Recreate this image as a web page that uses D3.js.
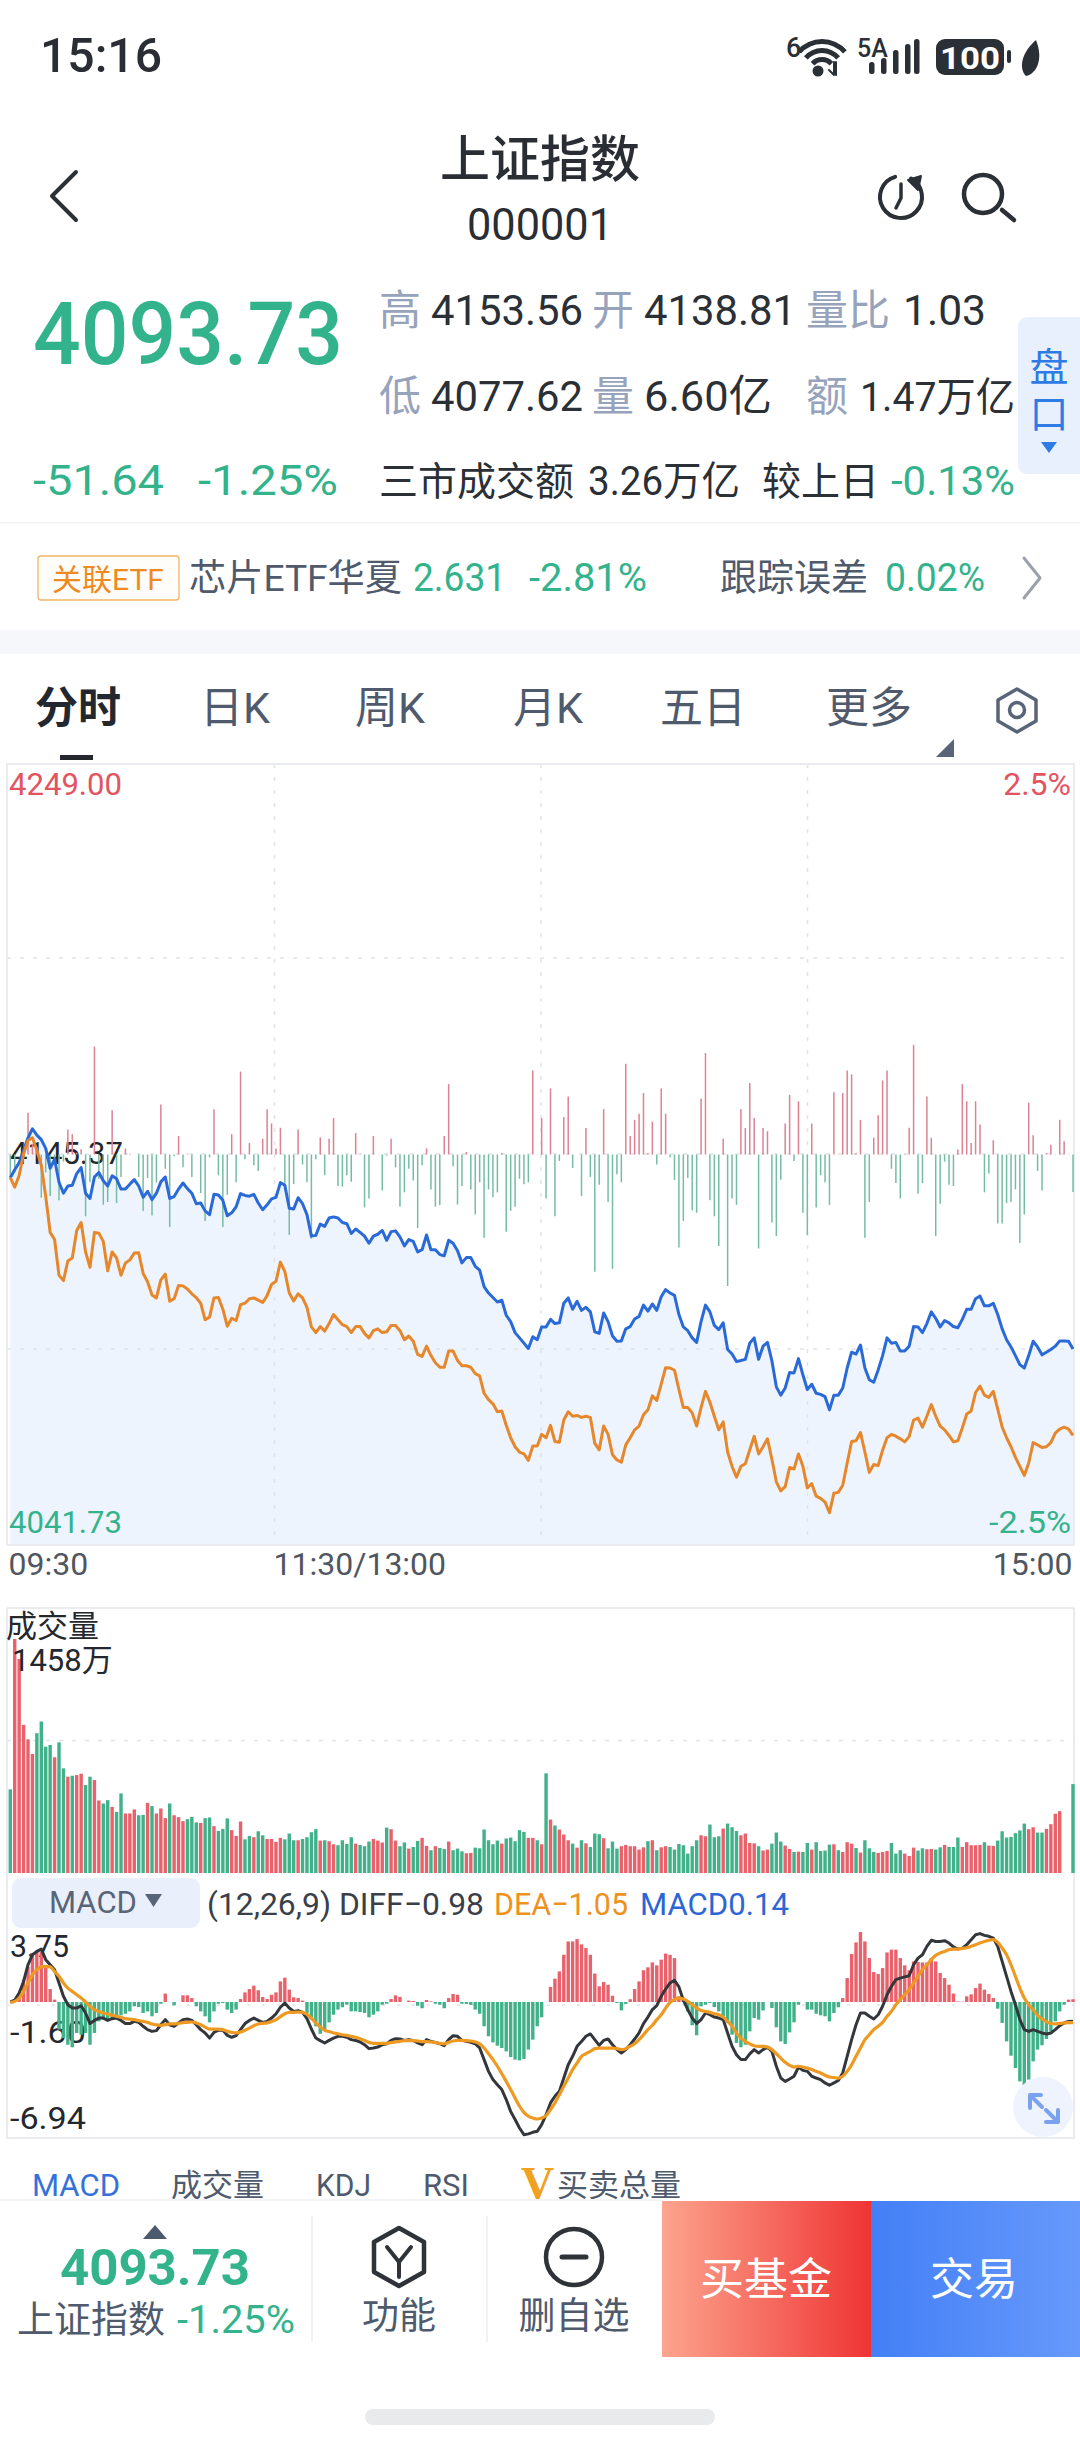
<!DOCTYPE html>
<html><head><meta charset="utf-8">
<script src="https://cdn.jsdelivr.net/npm/d3@7/dist/d3.min.js"></script>
<style>html,body{margin:0;padding:0;background:#fff}svg{display:block}text{font-family:Roboto,"Noto Sans CJK SC",sans-serif}</style>
</head><body><div id="c"></div>
<script>
const priceLine=[4139.2,4141.3,4143.2,4146.5,4149.8,4152.2,4150.5,4149.3,4147,4141.7,
4144.1,4138,4135.1,4137,4137.2,4140.3,4141.9,4135.1,4133.7,4139.4,
4140.6,4138.4,4137,4139.7,4138.9,4136.2,4136.2,4137.5,4138.7,4137,
4134,4135.6,4133.4,4135.1,4138.1,4139.4,4133.7,4134.2,4136.2,4137.8,
4136.3,4135.1,4132.3,4132.5,4130.4,4129.4,4134.8,4134.6,4133.2,4129.1,
4129.9,4131.5,4135,4134.5,4134.3,4134.8,4132.5,4130.7,4132,4133.6,
4134,4137.9,4137.2,4131.1,4130.9,4133.9,4132.3,4129.4,4123.7,4123.9,
4126.9,4126.3,4128.5,4128.8,4128.5,4127.3,4127,4124.4,4125.6,4124.7,
4123.7,4121.8,4123.7,4124.2,4125.2,4122.6,4124.9,4125.1,4123.5,4121.1,
4122.8,4122.3,4119.5,4120.1,4124,4120.1,4120.1,4118.8,4118.5,4122.6,
4121.8,4119.8,4116.6,4118,4118,4115.7,4114.7,4110.3,4108.6,4107.4,
4106.2,4106.7,4102.7,4101,4098.1,4096.7,4095.3,4093.9,4097,4096.2,
4099.6,4099.6,4101.6,4100.5,4100.7,4105.9,4107.3,4104.3,4106.4,4104,
4104.8,4103.6,4098.3,4097.9,4103.3,4101,4097.2,4095.8,4095.9,4099.1,
4099.7,4101.7,4102.4,4105.4,4103.8,4105.7,4104,4107.6,4109.5,4108.6,
4108,4102.9,4099.6,4098.6,4096.7,4095.5,4101,4105.4,4103.6,4100,
4098.9,4100.7,4093.6,4092.4,4090.4,4090.7,4091,4095.3,4096.7,4091,
4094.5,4095.5,4090.6,4083.7,4081.5,4083.4,4087.5,4087.4,4091.2,4086.9,
4083,4084.4,4082,4081.7,4081.1,4077.6,4081.5,4081.5,4083.4,4088.7,
4092.9,4092.4,4094.8,4088.7,4085.6,4084.9,4088.2,4092,4096.7,4095.3,
4095.5,4093.2,4093.2,4094.5,4099.7,4099.6,4098.1,4100.5,4103.6,4101.9,
4099.6,4101.3,4100.7,4099.7,4099.4,4101.6,4104.3,4104.3,4107.1,4107.8,
4105.2,4105.2,4105.9,4102.9,4099.1,4096.2,4094.3,4092,4089.6,4088.7,
4092,4095.8,4094.3,4092.2,4092.9,4093.6,4094.5,4095.9,4095.9,4095.8,4093.73];
const leadLine=[4139.2,4136.7,4139.8,4145.5,4149.1,4149.8,4146.5,4142.5,4134.2,4124.7,
4122.8,4113.3,4111.9,4117.1,4117.9,4125.2,4127.3,4119.5,4115.4,4124.7,
4124.5,4122.3,4114.5,4119.5,4117.9,4113.3,4116.6,4117.4,4119.2,4119.3,
4113.8,4111.6,4108.1,4107.3,4112.1,4113.6,4106.4,4107.1,4110.6,4110.5,
4109.7,4108.4,4107.4,4105.9,4101.5,4102.2,4107.3,4107.4,4104.3,4099.8,
4101.9,4101.3,4105.5,4105.9,4107.1,4107.3,4106.7,4106.1,4107.9,4110.9,
4111.7,4116.8,4114.3,4108.6,4106.5,4108.4,4107.3,4104.8,4099.6,4098.1,
4099.7,4098.5,4100.5,4102.9,4101.5,4100.2,4099.7,4098.1,4099.7,4099.7,
4097.9,4096.7,4098.6,4099.1,4098.1,4098.3,4100,4100,4098.6,4096.2,
4097.2,4095.8,4092.3,4091.8,4094.5,4092,4090.1,4088.9,4088.9,4093.2,
4093.2,4090.7,4089.3,4089.3,4088.9,4087.2,4086.6,4082,4080.3,4079.2,
4077.1,4077.3,4073.5,4070.2,4067.8,4066.4,4065.9,4064.2,4068,4068,
4071.1,4070.2,4073.5,4069.2,4069,4074.9,4077.1,4075.9,4076.1,4075.6,
4075.9,4075.6,4068.7,4067,4073.3,4071.1,4065.7,4064.3,4063.7,4068.3,
4070.2,4072.3,4073.3,4076.3,4077.6,4081.3,4080.1,4084.4,4088.8,4088.7,
4088.1,4083,4078.2,4078.2,4076.8,4073.3,4078.2,4082.5,4079.6,4075.9,
4072.3,4074.4,4066.4,4062.6,4059.7,4062.6,4063.3,4067,4070.6,4065.9,
4067.8,4069.9,4064.5,4058.5,4056.1,4057.2,4062.3,4061.9,4065.9,4062.6,
4056.9,4058,4054.7,4054.1,4053.1,4050.3,4055.5,4055.7,4057.6,4063.5,
4069.2,4069.4,4071.6,4066.4,4061,4063.1,4062.8,4066.9,4070.2,4071.1,
4070.6,4069.9,4069.1,4070.5,4074.9,4075.4,4073,4075.9,4079,4075.9,
4073.3,4072.3,4070.8,4069.1,4069.4,4072.8,4076.5,4077.3,4082.2,4083.9,
4081.5,4080.9,4082.5,4077.8,4073,4070.2,4067.8,4065,4062.6,4060.2,
4063.5,4068.9,4068.3,4067.6,4067.8,4068.9,4071.4,4072.5,4073,4072.5,4070.8];
const flow=[-70,-50,0,-10,117,30,20,-121,-50,-116,
-30,-128,-20,70,57,5,15,-173,-78,302,
-68,-141,-133,124,-136,-63,17,2,0,-63,
-158,-66,-171,-78,140,-40,-203,-4,52,-36,
2,-63,0,-108,-186,-8,127,-58,-203,-113,
57,-78,232,-13,32,-30,-46,44,127,87,
17,75,-98,-225,-83,70,-28,-78,-236,-13,
48,-58,44,102,-88,-90,-58,-76,60,1,
-148,-123,52,1,-101,-3,44,-36,-146,-106,
-40,-73,-206,-30,17,-98,-146,-141,52,197,
-33,-140,-88,7,-98,-168,-78,-233,-98,-120,
-106,4,-216,-158,-146,-68,-83,-78,235,1,
102,-123,185,-173,-18,105,162,-38,0,-116,
74,-63,-328,-85,127,-133,-320,-55,-78,254,
52,97,114,172,4,92,-28,185,114,-8,
-71,-260,-186,-66,-156,-163,157,284,-128,-173,
-256,44,-368,-123,-141,127,74,200,102,-263,
74,65,-190,-228,-71,87,167,-18,149,-163,
-225,87,-148,-58,-78,-141,174,1,172,235,
224,4,97,-233,-133,47,110,207,235,-40,
-80,-123,1,75,307,-110,-80,162,47,-228,
-138,-20,-85,-88,14,197,149,32,149,84,
-106,-53,40,-193,-193,-136,-133,-98,-248,-168,
145,54,-46,-101,4,27,1,97,37,1,-105];
const volume=[521,1458,1333,923,833,742,871,944,787,798,
721,814,652,600,606,610,619,548,600,579,
452,433,454,412,381,496,371,371,396,360,
362,437,417,371,402,342,433,360,348,323,
335,350,315,312,342,346,292,262,275,340,
267,231,321,210,231,223,260,235,212,212,
194,219,210,246,204,204,212,223,254,273,
202,204,198,179,173,204,181,223,183,175,
167,196,212,202,190,283,273,202,167,190,
152,162,200,219,169,142,167,156,150,196,
142,152,135,123,125,158,154,271,204,179,
202,183,215,221,198,267,256,219,219,204,
179,621,333,296,271,240,204,183,158,204,
185,162,246,242,217,154,196,152,167,175,
167,167,146,160,198,204,142,160,167,162,
146,181,173,121,167,204,235,229,302,223,
229,277,308,285,262,235,246,187,185,167,
140,146,183,252,196,171,150,131,133,131,
187,146,192,137,140,177,179,142,131,192,
183,156,127,204,154,131,125,131,137,187,
121,142,121,106,158,140,154,148,150,146,
160,175,162,162,221,162,192,173,173,175,
192,171,169,202,260,221,225,248,265,308,
273,285,252,252,275,304,369,385,0,0,554];
const volumeDir=("GRRRRRGGGG"+"RGGRGRRGGR"+"RGGRGGRRRG"+"GRGRRRGRRR"+"GGGRGGRGGG"+"RRRGGRGGRR"+"RRGGGRGGGG"+"RGRRGGGGRG"+"GGRRRGRRGG"+"RGGRRGRGGR"+"GGGRRGGGGG"+"GRGGGGGRRG"+"RGRGRRRGRG"+"RGGGRGGGRR"+"RRRRGRGRRG"+"GGGGGGRRGG"+"GRGGGRRRRG"+"RRGGGRRGRG"+"GRGGGGRGRR"+"RGRGGGRRRG"+"GGRRRGGRRG"+"GRGGGRRRRR"+"GRRGGGGGGG"+"RRGGRRRRRRG").split("");
const macdHist=[0,.05,.29,1.14,1.79,2.5,2.62,2.55,1.77,.66,
.12,-1.41,-1.84,-2.18,-2.31,-1.58,-1.67,-1.58,-2.18,-1.58,
-.99,-.9,-.9,-.82,-.82,-.68,-.6,-.48,-.22,-.26,
-.56,-.48,-.73,-.56,-.09,.43,0,-.17,0,.34,
.34,.2,-.22,-.48,-.73,-1.04,-.48,-.09,-.05,-.39,
-.56,-.39,.15,.49,.66,.83,.6,.26,.15,.37,
.49,1.05,1.24,.63,.24,.2,.07,-.56,-.9,-1.24,
-1.62,-1.41,-1.04,-.65,-.39,-.27,-.14,-.48,-.48,-.51,
-.56,-.78,-.65,-.48,-.14,-.09,.15,.34,.26,0,
.07,.05,-.19,-.32,.1,.03,-.09,-.14,-.32,.2,
.41,.37,-.09,-.1,-.15,-.39,-.6,-1.24,-1.75,-2.06,
-2.23,-2.35,-2.52,-2.81,-2.94,-2.98,-2.91,-2.43,-1.92,-1.24,
-.78,0,.77,1.19,1.56,2.41,3.09,3.09,3.21,2.94,
2.75,2.41,1.45,.8,1.02,.88,.32,-.05,-.43,-.1,
.14,.66,1.05,1.62,1.77,2.02,1.87,2.16,2.47,2.41,
2.24,.29,.22,-.48,-1.19,-1.7,-.22,-.14,-.05,-.26,
-.48,-.73,-1.07,-1.67,-2.09,-2.31,-2.18,-1.5,-.82,-.9,
-.43,0,-.31,-1.29,-2.01,-2.14,-1.55,-1.04,-.14,0,
-.39,-.39,-.6,-.68,-.73,-.99,-.56,-.27,.2,1.22,
2.45,3.04,3.57,3.09,2.24,1.53,1.43,1.73,2.53,2.67,
2.67,2.24,1.87,1.62,2.07,2.04,2.02,2.02,2.24,2.07,
1.48,1.22,.88,.43,.03,.02,.29,.39,.71,.94,
.63,.41,.2,-.34,-1.07,-2.01,-2.74,-3.37,-4.05,-4.3,
-3.96,-3.03,-2.43,-2.21,-1.89,-1.5,-.99,-.48,-.14,.12,.14];
const diffLine=[0,.09,.46,1.05,1.9,2.41,2.58,2.7,2.16,1.9,
1.65,.97,.29,-.14,-.31,-.31,-.19,-.56,-1.1,-.94,
-.82,-.82,-.94,-.85,-.82,-.94,-1.1,-1.1,-.99,-1.04,
-1.24,-1.41,-1.5,-1.46,-1.16,-.9,-1.16,-1.24,-1.07,-.9,
-.87,-.94,-1.16,-1.41,-1.58,-1.84,-1.55,-1.44,-1.44,-1.7,
-1.8,-1.72,-1.41,-1.1,-.94,-.82,-.94,-1.04,-.99,-.82,
-.61,-.27,-.05,-.31,-.48,-.44,-.53,-.85,-1.38,-1.84,
-1.97,-2.09,-1.96,-1.84,-1.75,-1.75,-1.8,-1.92,-1.96,-2.04,
-2.18,-2.38,-2.35,-2.3,-2.18,-2.13,-1.96,-1.87,-1.89,-1.96,
-1.92,-1.96,-2.09,-2.18,-1.92,-2.01,-2.06,-2.13,-2.23,-1.92,
-1.72,-1.75,-1.96,-2.01,-2.06,-2.13,-2.35,-2.94,-3.54,-3.96,
-4.22,-4.47,-4.98,-5.58,-6,-6.43,-6.77,-6.73,-6.65,-6.6,
-6.26,-5.75,-5.15,-4.81,-4.56,-3.88,-3.2,-2.77,-2.26,-2.01,
-1.75,-1.63,-1.92,-2.21,-1.96,-1.89,-2.18,-2.43,-2.6,-2.43,
-2.18,-1.89,-1.58,-1.1,-.77,-.39,-.19,.29,.66,.97,
1.11,.77,.09,-.39,-.82,-1.1,-.9,-.56,-.65,-.77,
-.82,-.9,-1.58,-2.26,-2.69,-2.94,-2.94,-2.65,-2.43,-2.6,
-2.43,-2.31,-2.52,-3.28,-3.88,-4.05,-3.93,-3.79,-3.32,-3.49,
-3.54,-3.79,-3.88,-3.96,-4.13,-4.25,-4.13,-4,-3.62,-2.77,
-1.92,-1.16,-.56,-.56,-.73,-.87,-.65,-.22,.37,.8,
1.14,1.22,1.28,1.34,1.9,2.24,2.41,2.84,3.15,3.09,
3.09,3.13,3.01,2.81,2.7,2.75,2.92,3.18,3.43,3.49,
3.4,3.35,3.26,2.84,2.07,1.31,.54,-.14,-.9,-1.41,
-1.5,-1.41,-1.5,-1.58,-1.63,-1.58,-1.41,-1.21,-1.07,-.99,-.98];
const deaLine=[-.02,.03,.2,.54,.97,1.39,1.65,1.79,1.82,1.79,
1.56,1.31,.97,.71,.54,.37,.2,0,-.22,-.39,
-.48,-.56,-.61,-.68,-.73,-.78,-.85,-.88,-.9,-.95,
-.99,-1.04,-1.12,-1.17,-1.19,-1.16,-1.12,-1.12,-1.09,-1.05,
-1.04,-1.02,-1.07,-1.16,-1.28,-1.38,-1.38,-1.38,-1.41,-1.5,
-1.55,-1.58,-1.53,-1.44,-1.33,-1.21,-1.12,-1.09,-1.07,-1,
-.9,-.75,-.6,-.53,-.53,-.51,-.53,-.63,-.82,-1.07,
-1.28,-1.44,-1.51,-1.58,-1.62,-1.67,-1.7,-1.75,-1.8,-1.87,
-1.96,-2.06,-2.11,-2.11,-2.11,-2.11,-2.07,-2.04,-2.01,-1.97,
-1.97,-1.97,-1.99,-2.02,-2.02,-2.04,-2.07,-2.11,-2.14,-2.06,
-1.99,-1.96,-1.96,-1.97,-1.99,-2.04,-2.14,-2.35,-2.64,-2.94,
-3.28,-3.66,-4.05,-4.47,-4.9,-5.32,-5.63,-5.83,-5.92,-5.97,
-5.92,-5.8,-5.49,-5.15,-4.73,-4.3,-3.88,-3.45,-3.11,-2.77,
-2.64,-2.52,-2.38,-2.35,-2.35,-2.35,-2.35,-2.38,-2.43,-2.38,
-2.26,-2.13,-1.92,-1.67,-1.41,-1.19,-.9,-.65,-.31,-.02,
.12,.2,.15,.03,-.14,-.31,-.44,-.48,-.53,-.6,
-.65,-.77,-.99,-1.24,-1.58,-1.84,-2.01,-2.14,-2.23,-2.26,
-2.26,-2.3,-2.43,-2.64,-2.86,-3.08,-3.23,-3.32,-3.28,-3.32,
-3.37,-3.45,-3.54,-3.62,-3.74,-3.83,-3.86,-3.88,-3.79,-3.54,
-3.2,-2.77,-2.35,-1.92,-1.67,-1.41,-1.24,-1.04,-.73,-.48,
-.14,.12,.37,.63,.97,1.31,1.65,1.9,2.16,2.38,
2.5,2.58,2.67,2.7,2.7,2.74,2.77,2.84,2.92,3.01,
3.09,3.15,3.18,3.04,2.75,2.41,1.9,1.31,.71,.2,
-.14,-.39,-.68,-.87,-1,-1.1,-1.12,-1.09,-1.07,-1.05,-1.05];
const timeLabels=["09:30","11:30/13:00","15:00"];
const priceTicks=["4249.00","4145.37","4041.73"];
const pctTicks=["2.5%","-2.5%"];
const macdTicks=["3.75","-1.60","-6.94"];
const tabs=["分时","日K","周K","月K","五日","更多"];
const subTabs=["MACD","成交量","KDJ","RSI","买卖总量"];

const RED="#e8616b",GREEN="#41b18a",UI_GREEN="#33b38c",GRAY="#97a3bb",DARK="#2b2f36",SUB="#4f5a6d",LINE="#e9ebef",GRID="#dfe3ea";
const svg=d3.select("#c").append("svg").attr("width",1080).attr("height",2444).attr("viewBox","0 0 1080 2444");
const defs=svg.append("defs");
const g1=defs.append("linearGradient").attr("id","buy");g1.append("stop").attr("offset",0).attr("stop-color","#fca48d");g1.append("stop").attr("offset",1).attr("stop-color","#ef3434");
const g2=defs.append("linearGradient").attr("id","trade");g2.append("stop").attr("offset",0).attr("stop-color","#437ff6");g2.append("stop").attr("offset",1).attr("stop-color","#6699fb");
function T(x,y,s,size,fill,o={}){const t=svg.append("text").attr("x",x).attr("y",y).attr("font-size",size).attr("fill",fill).attr("text-anchor",o.a||"start").attr("font-weight",o.w||400).text(s);if(o.L)t.attr("textLength",o.L).attr("lengthAdjust","spacingAndGlyphs");return t}
function P(d,o={}){return svg.append("path").attr("d",d).attr("fill",o.f||"none").attr("stroke",o.s||"none").attr("stroke-width",o.sw||1).attr("stroke-linecap",o.c||"round").attr("stroke-linejoin","round")}

/* scales */
const x=d3.scaleLinear([0,240],[10.3,1073]);
const L=7,R=1074,PT=764,PB=1545,VT=1608,VB=1873,MT=1928.5,MB=2138;
const yP=d3.scaleLinear([4041.73,4249],[PB,PT]);
const yF=d3.scaleLinear([-1093,1093],[PB,PT]);
const yV=d3.scaleLinear([0,1458],[VB,1639]);
const yM=d3.scaleLinear([-6.94,3.75],[MB,MT]);

/* status bar */
T(40,72,"15:16",49,"#2a2e34",{w:500,L:122});
T(786,57,"6",27,DARK,{w:500});
[33,24,15].forEach(r=>P(d3.arc()({innerRadius:r-5,outerRadius:r,startAngle:-0.85,endAngle:0.85}),{f:DARK}).attr("transform","translate(822,72)"));
svg.append("circle").attr("cx",818).attr("cy",71).attr("r",5.5).attr("fill",DARK);
P("M834 62 L834 75 M829 70 L834 75 M836 62 L836 75",{s:DARK,sw:2});
T(857,57,"5A",25,DARK,{w:500});
[[869,62,12],[881,58,16],[893,50,24],[905,44,30],[914,39,35]].forEach(b=>svg.append("rect").attr("x",b[0]).attr("y",b[1]).attr("width",5.5).attr("height",b[2]).attr("rx",2.5).attr("fill",DARK));
svg.append("rect").attr("x",936).attr("y",39).attr("width",68).attr("height",36).attr("rx",9).attr("fill",DARK);
svg.append("rect").attr("x",1007).attr("y",50).attr("width",4).attr("height",13).attr("rx",2).attr("fill",DARK);
T(970,69,"100",32,"#fff",{a:"middle",w:700,L:60});
P("M1036 40 C1022 52 1018 68 1026 76 C1036 74 1044 60 1036 40Z",{f:DARK});

/* header */
T(540,177,"上证指数",50,"#2a2e34",{a:"middle",w:500});
T(540,240,"000001",45,"#2a2e34",{a:"middle",L:146});
P("M76 172 L52 196 L76 220",{s:DARK,sw:4});
P(d3.arc()({innerRadius:21,outerRadius:21,startAngle:0.5,endAngle:6.0}),{s:DARK,sw:4}).attr("transform","translate(901,197)");
P("M901 184 L901 198 L896 208",{s:DARK,sw:3.5});
P("M908 180 L921 176 L918 190Z",{f:DARK,s:DARK,sw:2});
svg.append("circle").attr("cx",983).attr("cy",194).attr("r",19).attr("fill","none").attr("stroke",DARK).attr("stroke-width",4.5);
P("M1002 210 L1014 220",{s:DARK,sw:4.5});

/* quote */
T(33,364,"4093.73",88,UI_GREEN,{w:500,L:310});
const n=(x1,y,s,l)=>T(x1,y,s,43,DARK,{L:l});
const g=(x1,y,s)=>T(x1,y,s,42,GRAY);
g(379,325,"高");n(431,325,"4153.56",152);g(592,325,"开");n(644,325,"4138.81",152);g(806,325,"量比");n(903,325,"1.03",83);
g(379,411,"低");n(431,411,"4077.62",152);g(592,411,"量");T(644,411,"6.60亿",43,DARK,{L:128});g(806,411,"额");T(860,411,"1.47万亿",40,DARK,{L:155});
T(33,495,"-51.64",42,UI_GREEN,{L:131});T(198,495,"-1.25%",42,UI_GREEN,{L:140});
T(379,495,"三市成交额",39,DARK);T(588,495,"3.26万亿",40,DARK,{L:152});T(762,495,"较上日",39,DARK);T(891,495,"-0.13%",40,UI_GREEN,{L:124});
P("M1080 317 L1028 317 Q1018 317 1018 327 L1018 464 Q1018 474 1028 474 L1080 474Z",{f:"#e8f0fd"});
T(1049,381,"盘",39,"#2e7be6",{a:"middle"});T(1049,428,"口",39,"#2e7be6",{a:"middle"});
P("M1041 442 L1057 442 L1049 453Z",{f:"#2e7be6"});
svg.append("rect").attr("x",0).attr("y",522).attr("width",1080).attr("height",1.5).attr("fill","#f3f4f6");

/* ETF row */
svg.append("rect").attr("x",38).attr("y",556).attr("width",141).attr("height",44).attr("rx",3).attr("fill","#fffdf9").attr("stroke","#f0b46a").attr("stroke-width",1.3);
T(108,590,"关联ETF",30,"#ee8a1f",{a:"middle"});
T(189,591,"芯片ETF华夏",37,SUB,{L:213});T(413,591,"2.631",38,UI_GREEN,{L:93});T(529,591,"-2.81%",38,UI_GREEN,{L:118});
T(720,591,"跟踪误差",37,SUB);T(885,591,"0.02%",38,UI_GREEN,{L:100});
P("M1024 558 L1040 578 L1024 598",{s:"#9aa1ad",sw:3});
svg.append("rect").attr("x",0).attr("y",630).attr("width",1080).attr("height",24).attr("fill","#f5f7fb");

/* tabs */
const tabX=[35,200,355,513,660,826];
tabs.forEach((s,i)=>T(tabX[i],723,s,i==0?43:43,i==0?"#24282e":SUB,{w:i==0?700:400}));
svg.append("rect").attr("x",60).attr("y",755).attr("width",33).attr("height",5).attr("fill","#24282e");
P("M954 739 L954 757 L936 757Z",{f:"#5a6478"});
P("M1017 689 L1036 700 L1036 721 L1017 732 L998 721 L998 700Z",{s:"#5a6478",sw:3.5});
svg.append("circle").attr("cx",1017).attr("cy",710).attr("r",7.5).attr("fill","none").attr("stroke","#5a6478").attr("stroke-width",3.5);

/* price panel */
const area=d3.area().x((d,i)=>x(i)).y0(PB).y1(d=>yP(d));
svg.append("path").attr("d",area(priceLine)).attr("fill","#eef4fd");
const grid=svg.append("g").attr("stroke",GRID).attr("stroke-width",1.5).attr("stroke-dasharray","4 9");
[274.5,541,807.5].forEach(v=>grid.append("line").attr("x1",v).attr("x2",v).attr("y1",PT).attr("y2",PB));
[958,1154,1349].forEach(v=>grid.append("line").attr("x1",L).attr("x2",R).attr("y1",v).attr("y2",v));
svg.append("g").attr("fill","none").attr("stroke",LINE).attr("stroke-width",2).call(g=>{
  g.append("path").attr("d",`M${L} ${PT} L${R} ${PT} L${R} ${PB} L${L} ${PB}Z`);
  g.append("path").attr("d",`M${L} ${VT} L${R} ${VT} M${L} ${VT} L${L} ${MB} L${R} ${MB} L${R} ${VT}`);
});
T(9,yP(4249)+31,priceTicks[0],32,"#e2545f",{L:113});
T(R-3,yP(4249)+31,pctTicks[0],32,"#e2545f",{a:"end"});
T(10,yP(4145.37)+10,priceTicks[1],32,"#24282e",{L:113});
T(9,yP(4041.73)-12,priceTicks[2],32,UI_GREEN,{L:113});
T(R-3,yP(4041.73)-12,pctTicks[1],32,UI_GREEN,{a:"end",L:82});
svg.append("g").selectAll("line").data(flow).join("line")
  .attr("x1",(d,i)=>x(i)).attr("x2",(d,i)=>x(i)).attr("y1",yF(0)).attr("y2",d=>yF(d))
  .attr("stroke",d=>d>=0?"#dc8292":"#76bca4").attr("stroke-width",1.5);
const ln=d3.line().x((d,i)=>x(i)).y(d=>yP(d));
svg.append("path").attr("d",ln(priceLine)).attr("fill","none").attr("stroke","#2a6ad8").attr("stroke-width",3).attr("stroke-linejoin","round");
svg.append("path").attr("d",ln(leadLine)).attr("fill","none").attr("stroke","#e6872b").attr("stroke-width",3).attr("stroke-linejoin","round");
/* time axis */
const timeAxis=d3.axisBottom(d3.scaleLinear([0,1,2],[8,273,1072])).tickValues([0,1,2]).tickSize(0).tickFormat(i=>timeLabels[i]);
const ax=svg.append("g").attr("transform","translate(0,1547)").call(timeAxis);
ax.select(".domain").remove();
ax.selectAll("text").attr("font-size",32).attr("fill","#50565f").attr("dy",0).attr("y",28).attr("font-family",'Roboto,"Noto Sans CJK SC",sans-serif')
  .attr("text-anchor",i=>i==2?"end":"start");

/* volume */
svg.append("line").attr("x1",L).attr("x2",R).attr("y1",1740.5).attr("y2",1740.5).attr("stroke",GRID).attr("stroke-width",1.5).attr("stroke-dasharray","4 9");
svg.append("g").selectAll("rect").data(volume).join("rect")
  .attr("x",(d,i)=>x(i)-1.7).attr("width",3.4)
  .attr("y",d=>yV(d)).attr("height",d=>Math.max(0,VB-yV(d)))
  .attr("fill",(d,i)=>volumeDir[i]=="R"?RED:GREEN);
T(6,1637,"成交量",31,"#24282e");
T(12,1671,"1458万",31,"#24282e");

/* MACD header */
svg.append("rect").attr("x",12).attr("y",1878).attr("width",188).attr("height",50).attr("rx",9).attr("fill","#e9f0fb");
T(49,1913,"MACD",31,"#5a6478");
P("M145 1894 L162 1894 L153.5 1907Z",{f:"#5a6478"});
T(207,1915,"(12,26,9) DIFF−0.98",32,"#3a404a",{L:277});
T(494,1915,"DEA−1.05",32,"#ee921f",{L:134});
T(640,1915,"MACD0.14",32,"#2c66d6",{L:149});

/* MACD panel */
svg.append("line").attr("x1",L).attr("x2",R).attr("y1",yM(0)+3).attr("y2",yM(0)+3).attr("stroke",GRID).attr("stroke-width",1.5).attr("stroke-dasharray","3 12");
T(10,1957,macdTicks[0],32,"#24282e",{L:59});
T(10,2043,macdTicks[1],32,"#24282e",{L:76});
T(10,2129,macdTicks[2],32,"#24282e",{L:76});
svg.append("g").selectAll("rect").data(macdHist).join("rect")
  .attr("x",(d,i)=>x(i)-1.7).attr("width",3.4)
  .attr("y",d=>d>=0?yM(d):yM(0)).attr("height",d=>Math.abs(yM(d)-yM(0)))
  .attr("fill",d=>d>=0?RED:GREEN);
const lm=d3.line().x((d,i)=>x(i)).y(d=>yM(d));
svg.append("path").attr("d",lm(diffLine)).attr("fill","none").attr("stroke","#33373b").attr("stroke-width",3).attr("stroke-linejoin","round");
svg.append("path").attr("d",d3.line().x((d,i)=>x(i)).y(d=>yM(d)).curve(d3.curveMonotoneX)(deaLine)).attr("fill","none").attr("stroke","#ee9a22").attr("stroke-width",3.2);
svg.append("circle").attr("cx",1043).attr("cy",2107).attr("r",30).attr("fill","#eef3fd");
P("M1030 2095 L1042 2107 M1030 2095 L1030 2108 M1030 2095 L1041 2095",{s:"#7aa2ee",sw:4});
P("M1058 2122 L1046 2110 M1058 2122 L1058 2110 M1058 2122 L1046 2122",{s:"#7aa2ee",sw:4});

/* indicator tabs */
T(32,2196,subTabs[0],31,"#3472d9",{L:88});
T(171,2196,subTabs[1],31,SUB);
T(316,2196,subTabs[2],31,SUB,{L:55});
T(423,2196,subTabs[3],31,SUB,{L:46});
svg.append("text").attr("x",521).attr("y",2199).attr("font-size",46).attr("font-weight",700).attr("fill","#f0a11f").style("font-family","'Liberation Serif',serif").text("V");
T(557,2196,subTabs[4],31,SUB);

/* bottom bar */
svg.append("rect").attr("x",0).attr("y",2201).attr("width",1080).attr("height",156).attr("fill","#fff");
svg.append("rect").attr("x",0).attr("y",2199).attr("width",662).attr("height",2).attr("fill","#f3f4f6");
P("M155 2225 L167 2239 L143 2239Z",{f:"#4d5a6e"});
T(155,2285,"4093.73",50,UI_GREEN,{a:"middle",w:700,L:190});
T(17,2333,"上证指数",37,SUB);T(177,2333,"-1.25%",38,UI_GREEN,{L:118});
[312,487].forEach(v=>svg.append("line").attr("x1",v).attr("x2",v).attr("y1",2216).attr("y2",2342).attr("stroke","#eceef2").attr("stroke-width",1.5));
P("M399 2228 L424 2242 L424 2272 L399 2286 L374 2272 L374 2242Z",{s:"#2f3338",sw:4.5});
P("M387 2247 L399 2262 L411 2247 M399 2262 L399 2277",{s:"#2f3338",sw:4});
T(399,2329,"功能",37,SUB,{a:"middle"});
svg.append("circle").attr("cx",574).attr("cy",2257).attr("r",28).attr("fill","none").attr("stroke","#2f3338").attr("stroke-width",4.5);
P("M562 2257 L586 2257",{s:"#2f3338",sw:5});
T(574,2329,"删自选",37,SUB,{a:"middle"});
svg.append("rect").attr("x",662).attr("y",2201).attr("width",209).attr("height",156).attr("fill","url(#buy)");
svg.append("rect").attr("x",871).attr("y",2201).attr("width",209).attr("height",156).attr("fill","url(#trade)");
T(766,2295,"买基金",44,"#fff",{a:"middle"});
T(974,2295,"交易",44,"#fff",{a:"middle"});
svg.append("rect").attr("x",365).attr("y",2409).attr("width",350).attr("height",16).attr("rx",8).attr("fill","#e9eaeb");
</script></body></html>
